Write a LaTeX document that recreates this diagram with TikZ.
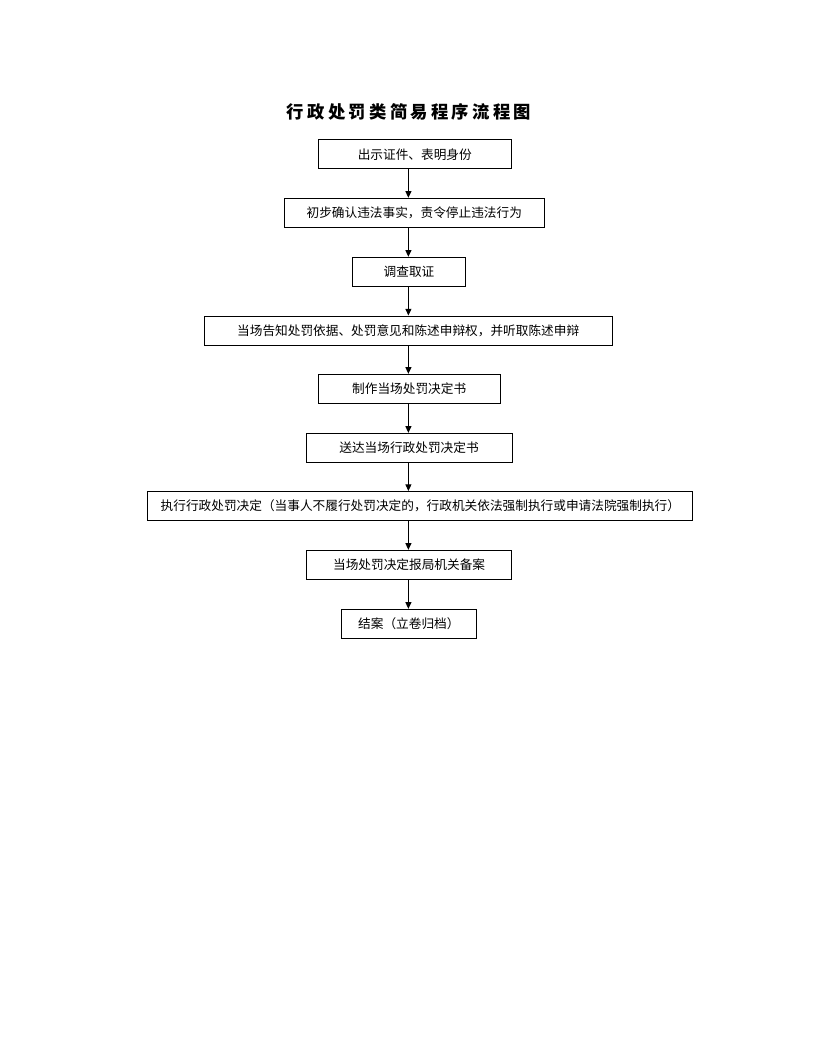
\documentclass[tikz,border=0pt]{standalone}
\usepackage{fontspec}
\usepackage{tikz}
\usetikzlibrary{arrows.meta}
\newfontfamily\cjk{Noto Sans CJK SC}
\newfontfamily\cjktitle[LetterSpace=19]{Noto Sans CJK SC}

\tikzset{
    kuang/.style={draw, line width=0.75pt, minimum height=21.75pt, inner sep=1pt,
        font=\cjk\fontsize{9.5}{11}\selectfont},
    jiantou/.style={line width=0.75pt, -{Triangle[length=5pt,width=4.5pt]}}
}

\begin{document}
\begin{tikzpicture}[x=0.75pt,y=-0.75pt]
    % 用紙の範囲
    \useasboundingbox (0,0) rectangle (816,1056);

    % 標題
    \node (biaoti) at (409,112) {\cjktitle\bfseries\fontsize{13}{15}\selectfont 行政处罚类简易程序流程图};

    % 各手順の枠
    \node[kuang, minimum width=144.9pt] (b1) at (414.8,154.3) {出示证件、表明身份};
    \node[kuang, minimum width=195pt]   (b2) at (414.3,212.8) {初步确认违法事实，责令停止违法行为};
    \node[kuang, minimum width=84.7pt]  (b3) at (409,271.8) {调查取证};
    \node[kuang, minimum width=305.9pt] (b4) at (408.2,330.5) {当场告知处罚依据、处罚意见和陈述申辩权，并听取陈述申辩};
    \node[kuang, minimum width=136.3pt] (b5) at (409.2,388.8) {制作当场处罚决定书};
    \node[kuang, minimum width=154.5pt] (b6) at (409,447.8) {送达当场行政处罚决定书};
    \node[kuang, minimum width=408.75pt] (b7) at (420.4,506) {执行行政处罚决定（当事人不履行处罚决定的，行政机关依法强制执行或申请法院强制执行）};
    \node[kuang, minimum width=153.9pt] (b8) at (409.1,564.8) {当场处罚决定报局机关备案};
    \node[kuang, minimum width=101.8pt] (b9) at (408.9,623.8) {结案（立卷归档）};

    % 矢印の軸
    \coordinate (zhou) at (408.4,0);

    % 矢印
    \draw[jiantou] (b1.south -| zhou) -- (b2.north -| zhou);
    \draw[jiantou] (b2.south -| zhou) -- (b3.north -| zhou);
    \draw[jiantou] (b3.south -| zhou) -- (b4.north -| zhou);
    \draw[jiantou] (b4.south -| zhou) -- (b5.north -| zhou);
    \draw[jiantou] (b5.south -| zhou) -- (b6.north -| zhou);
    \draw[jiantou] (b6.south -| zhou) -- (b7.north -| zhou);
    \draw[jiantou] (b7.south -| zhou) -- (b8.north -| zhou);
    \draw[jiantou] (b8.south -| zhou) -- (b9.north -| zhou);
\end{tikzpicture}
\end{document}
